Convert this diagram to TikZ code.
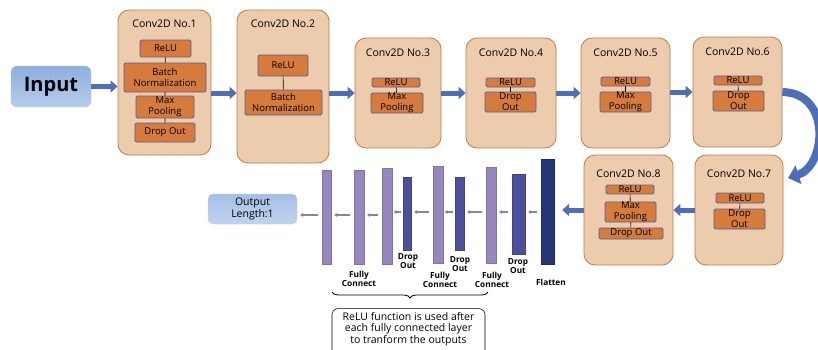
\documentclass[tikz,border=0pt]{standalone}
\usepackage{fontspec}
\setmainfont{Open Sans}
\usetikzlibrary{arrows.meta,decorations.pathreplacing}

\definecolor{peach}{HTML}{EDCBAD}
\definecolor{peachline}{HTML}{C47B42}
\definecolor{orangebox}{HTML}{D67B3B}
\definecolor{boxline}{HTML}{52619E}
\definecolor{arrblue}{HTML}{4D6EBA}
\definecolor{fcpurple}{HTML}{9887BF}
\definecolor{doblue}{HTML}{4B4F9E}
\definecolor{flnavy}{HTML}{28347A}
\definecolor{smallgray}{HTML}{7D8AA3}
\definecolor{inlight}{HTML}{B5CCEC}
\definecolor{indark}{HTML}{8EAFDF}

\begin{document}
\begin{tikzpicture}[x=1pt,y=-1pt,
  convbox/.style={draw=peachline,fill=peach,line width=0.8pt,rounded corners=11pt},
  opbox/.style={draw=boxline,fill=orangebox,line width=0.8pt,rounded corners=1.5pt,
    inner sep=0pt,align=center,font=\fontsize{9.5}{11}\selectfont},
  ttl/.style={font=\fontsize{10.5}{12}\selectfont},
  fcbar/.style={draw=fcpurple!85!black,fill=fcpurple,line width=0.3pt,minimum width=10pt},
  dobar/.style={draw=doblue!85!black,fill=doblue,line width=0.3pt,minimum width=9pt},
  barlbl/.style={align=center,font=\fontsize{8.3}{9.5}\selectfont\bfseries},
  bigarr/.style={draw=arrblue,line width=5pt,-{Triangle[length=7pt,width=12pt]}},
  smallarr/.style={draw=smallgray,line width=1.2pt,-{Stealth[length=3pt,width=4pt]},
    shorten >=3pt,shorten <=4pt},
  link/.style={draw=black,line width=0.6pt}]

  \useasboundingbox (0,0) rectangle (818,349);
  \clip (0,0) rectangle (818,349);

  % input
  \node[draw=arrblue!40,top color=indark,bottom color=inlight,
    rounded corners=6pt,minimum width=80pt,minimum height=41pt,
    font=\fontsize{20}{22}\selectfont\bfseries] (inp) at (51,86.5) {Input};

  % Conv2D No.1
  \node[convbox,minimum width=93pt,minimum height=145pt] (c1) at (164.5,82.5) {};
  \node[ttl] (c1t) at (164.5,24) {Conv2D No.1};
  \node[opbox,minimum width=51pt,minimum height=17pt] (c1a) at (165.5,48.5) {ReLU};
  \node[opbox,minimum width=82pt,minimum height=29pt] (c1b) at (165,77.5) {Batch\\Normalization};
  \node[opbox,minimum width=58pt,minimum height=22pt] (c1c) at (165,107) {Max\\Pooling};
  \node[opbox,minimum width=60pt,minimum height=19pt] (c1d) at (165,132.5) {Drop Out};
  \path[link] (c1a) -- (c1b) (c1b) -- (c1c) (c1c) -- (c1d);

  % Conv2D No.2
  \node[convbox,minimum width=92pt,minimum height=153pt] (c2) at (283,86.5) {};
  \node[ttl] (c2t) at (283,24) {Conv2D No.2};
  \node[opbox,minimum width=50pt,minimum height=21pt] (c2a) at (283,65.5) {ReLU};
  \node[opbox,minimum width=77pt,minimum height=25pt] (c2b) at (283.5,102.5) {Batch\\Normalization};
  \path[link] (c2a) -- (c2b);

  % Conv2D No.3
  \node[convbox,minimum width=86pt,minimum height=110pt] (c3) at (398,93) {};
  \node[ttl] (c3t) at (398,53) {Conv2D No.3};
  \node[opbox,minimum width=48pt,minimum height=9pt] (c3a) at (396,82.5) {ReLU};
  \node[opbox,minimum width=52pt,minimum height=20pt] (c3b) at (397,103) {Max\\Pooling};
  \path[link] (c3a) -- (c3b);

  % Conv2D No.4
  \node[convbox,minimum width=90pt,minimum height=110pt] (c4) at (511,93) {};
  \node[ttl] (c4t) at (511,53) {Conv2D No.4};
  \node[opbox,minimum width=49pt,minimum height=9pt] (c4a) at (510.5,82.5) {ReLU};
  \node[opbox,minimum width=51pt,minimum height=20pt] (c4b) at (510.5,102) {Drop\\Out};
  \path[link] (c4a) -- (c4b);

  % Conv2D No.5
  \node[convbox,minimum width=89pt,minimum height=110pt] (c5) at (625.5,93) {};
  \node[ttl] (c5t) at (625.5,53) {Conv2D No.5};
  \node[opbox,minimum width=49pt,minimum height=9pt] (c5a) at (625.5,81.5) {ReLU};
  \node[opbox,minimum width=51pt,minimum height=20pt] (c5b) at (625.5,102) {Max\\Pooling};
  \path[link] (c5a) -- (c5b);

  % Conv2D No.6
  \node[convbox,minimum width=89pt,minimum height=110pt] (c6) at (737.5,92) {};
  \node[ttl] (c6t) at (737.5,52) {Conv2D No.6};
  \node[opbox,minimum width=48pt,minimum height=9pt] (c6a) at (738,80.5) {ReLU};
  \node[opbox,minimum width=51pt,minimum height=20pt] (c6b) at (738.5,101) {Drop\\Out};
  \path[link] (c6a) -- (c6b);

  % Conv2D No.7
  \node[convbox,minimum width=88pt,minimum height=110pt] (c7) at (739,210) {};
  \node[ttl] (c7t) at (739,174) {Conv2D No.7};
  \node[opbox,minimum width=48pt,minimum height=10pt] (c7a) at (740,198) {ReLU};
  \node[opbox,minimum width=51pt,minimum height=20pt] (c7b) at (739.5,219) {Drop\\Out};
  \path[link] (c7a) -- (c7b);

  % Conv2D No.8
  \node[convbox,minimum width=89pt,minimum height=110pt] (c8) at (628.5,210) {};
  \node[ttl] (c8t) at (628.5,174) {Conv2D No.8};
  \node[opbox,minimum width=48pt,minimum height=9pt] (c8a) at (630,189.5) {ReLU};
  \node[opbox,minimum width=51pt,minimum height=20pt] (c8b) at (630.5,212) {Max\\Pooling};
  \node[opbox,minimum width=64pt,minimum height=11pt] (c8c) at (631,233.5) {Drop Out};
  \path[link] (c8a) -- (c8b) (c8b) -- (c8c);

  % dense part
  \node[fill=flnavy,draw=flnavy!80!black,line width=0.3pt,minimum width=13pt,minimum height=105pt] (fl) at (547.5,211.5) {};
  \node[dobar,minimum width=13pt,minimum height=80pt] (d3) at (518.5,214) {};
  \node[fcbar,minimum height=96pt] (f3) at (491,215) {};
  \node[dobar,minimum height=73pt] (d2) at (459.5,213.5) {};
  \node[fcbar,minimum height=97pt] (f2) at (438,214.5) {};
  \node[dobar,minimum width=8pt,minimum height=73pt] (d1) at (407,213.5) {};
  \node[fcbar,minimum height=96pt] (f1c) at (387,216) {};
  \node[fcbar,minimum height=94pt] (f1b) at (359,217) {};
  \node[fcbar,minimum width=9pt,minimum height=94pt] (f1a) at (326.5,217) {};
  \node[draw=arrblue!35,top color=indark!80,bottom color=inlight!85,
    rounded corners=5pt,minimum width=89pt,minimum height=30pt,align=center,
    font=\fontsize{10.5}{12.5}\selectfont] (out) at (252.5,209) {Output\\Length:1};

  \node[barlbl] (flx) at (551,282) {Flatten};
  \node[barlbl] (d3x) at (518,266) {Drop\\Out};
  \node[barlbl] (d2x) at (460,264) {Drop\\Out};
  \node[barlbl] (d1x) at (408,261) {Drop\\Out};
  \node[barlbl] (f3x) at (492,280) {Fully\\Connect};
  \node[barlbl] (f2x) at (440,280) {Fully\\Connect};
  \node[barlbl] (f1x) at (359,279) {Fully\\Connect};

  % big arrows
  \path[bigarr] (inp.east) -- (inp.east -| c1.west);
  \path[bigarr] (c1.east |- c3) -- (c2.west |- c3);
  \path[bigarr] (c2.east |- c3) -- (c3.west);
  \path[bigarr] (c3) -- (c4);
  \path[bigarr] (c4) -- (c5);
  \path[bigarr] (c5.east |- c6) -- (c6.west);
  \coordinate (c7in) at (788,178);
  \path[draw=arrblue,line width=8pt,-{Triangle[length=11pt,width=19pt]}]
    (c6.east) .. controls (832,93) and (826,166) .. (c7in);
  \path[bigarr] (c7) -- (c8);
  \path[bigarr,shorten >=8pt] (c8) -- (c8 -| fl.east);

  % small arrows
  \coordinate (ax) at (0,212);
  \path[smallarr] (fl.west |- ax) -- (d3.east |- ax);
  \path[smallarr] (d3.west |- ax) -- (f3.east |- ax);
  \path[smallarr] (f3.west |- ax) -- (d2.east |- ax);
  \path[smallarr,shorten >=1.5pt,shorten <=1.5pt] (d2.west |- ax) -- (f2.east |- ax);
  \path[smallarr] (f2.west |- ax) -- (d1.east |- ax);
  \path[smallarr,shorten >=1.5pt,shorten <=1.5pt] (d1.west |- ax) -- (f1c.east |- ax);
  \coordinate (ay) at (0,215);
  \path[smallarr] (f1c.west |- ay) -- (f1b.east |- ay);
  \path[smallarr] (f1b.west |- ay) -- (f1a.east |- ay);
  \path[smallarr] (f1a.west |- ay) -- (out.east |- ay);

  % note
  \draw[line width=0.8pt,decorate,decoration={brace,amplitude=6pt}] (488,292) -- (332,292);
  \node[draw,line width=0.6pt,rounded corners=6pt,minimum width=153pt,minimum height=44pt,
    align=center,font=\fontsize{10.5}{11.5}\selectfont] (note) at (408.5,334)
    {ReLU function is used after\\each fully connected layer\\to tranform the outputs\\[1.5pt]};
\end{tikzpicture}
\end{document}
